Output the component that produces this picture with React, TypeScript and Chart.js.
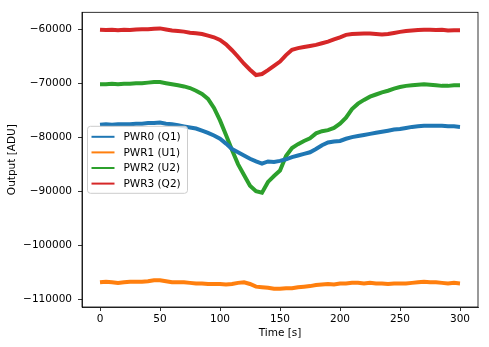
import React, { useEffect, useRef } from "react";
import { Chart, registerables } from "chart.js";

Chart.register(...registerables);

const times = [
  0, 5, 10, 15, 20, 25, 30, 35, 40, 45, 50, 55, 60, 65, 70, 75, 80, 85, 90, 95,
  100, 105, 110, 115, 120, 125, 130, 135, 140, 145, 150, 155, 160, 165, 170, 175,
  180, 185, 190, 195, 200, 205, 210, 215, 220, 225, 230, 235, 240, 245, 250, 255,
  260, 265, 270, 275, 280, 285, 290, 295, 300,
];

const pwr0 = [
  -77700, -77600, -77700, -77600, -77600, -77600, -77500, -77500, -77400, -77400,
  -77300, -77500, -77600, -77800, -78000, -78200, -78400, -78800, -79200, -79700,
  -80300, -81200, -82200, -82800, -83400, -84000, -84500, -84900, -84500, -84600,
  -84400, -84100, -83700, -83400, -83100, -82800, -82200, -81500, -81000, -80800,
  -80700, -80300, -80000, -79800, -79600, -79400, -79200, -79000, -78800, -78600,
  -78500, -78300, -78100, -78000, -77900, -77900, -77900, -77900, -78000, -78000,
  -78100,
];

const pwr1 = [
  -106900, -106800, -106900, -107000, -106900, -106800, -106800, -106800, -106700, -106500,
  -106500, -106700, -106900, -106900, -106900, -107000, -107100, -107100, -107200, -107200,
  -107200, -107300, -107200, -107000, -106900, -107200, -107700, -107800, -107900, -108100,
  -108100, -108000, -108000, -107800, -107700, -107600, -107400, -107300, -107200, -107300,
  -107100, -107100, -107000, -107000, -107100, -107000, -107100, -107100, -107200, -107100,
  -107100, -107100, -107000, -106900, -106800, -106900, -106900, -107000, -107100, -107000,
  -107100,
];

const pwr2 = [
  -70200, -70200, -70100, -70200, -70100, -70100, -70000, -70000, -69900, -69800,
  -69800, -70000, -70200, -70400, -70600, -70900, -71400, -72000, -72900, -74600,
  -76900, -79600, -82400, -85000, -87000, -89000, -90000, -90300, -88300, -87200,
  -86200, -83500, -82000, -81300, -80700, -80200, -79300, -78900, -78700, -78300,
  -77500, -76400, -74800, -73800, -73100, -72500, -72100, -71700, -71400, -71000,
  -70700, -70500, -70400, -70300, -70200, -70300, -70400, -70500, -70500, -70400,
  -70400,
];

const pwr3 = [
  -60100, -60150, -60100, -60200, -60100, -60150, -60050, -60000, -60000, -59900,
  -59850, -60050, -60250, -60350, -60450, -60650, -60750, -60900, -61200, -61500,
  -62000, -62800, -63900, -65100, -66400, -67500, -68500, -68300, -67600, -66800,
  -66000, -64800, -63800, -63500, -63300, -63100, -62900, -62600, -62300, -61900,
  -61500, -61050, -60900, -60850, -60800, -60800, -60900, -61000, -60900, -60700,
  -60500, -60350, -60250, -60150, -60100, -60100, -60150, -60100, -60250, -60200,
  -60200,
];

const seriesNames = ["PWR0 (Q1)", "PWR1 (U1)", "PWR2 (U2)", "PWR3 (Q2)"];
const seriesColors = ["#1f77b4", "#ff7f0e", "#2ca02c", "#d62728"];
const seriesValues = [pwr0, pwr1, pwr2, pwr3];

const xTicks = [0, 50, 100, 150, 200, 250, 300];
const yTicks = [-110000, -100000, -90000, -80000, -70000, -60000];

const FONT = "'DejaVu Sans', sans-serif";

const fmt = (v: number) => (v < 0 ? "\u2212" + Math.abs(v) : String(v));

const framePlugin = {
  id: "frame",
  afterDraw(chart: any) {
    const { ctx, chartArea } = chart;
    ctx.save();
    ctx.strokeStyle = "#000";
    ctx.lineWidth = 0.8;
    ctx.strokeRect(
      chartArea.left,
      chartArea.top,
      chartArea.right - chartArea.left,
      chartArea.bottom - chartArea.top
    );
    ctx.restore();
  },
};

const legendPlugin = {
  id: "mplLegend",
  afterDraw(chart: any) {
    const { ctx, chartArea } = chart;
    const x = chartArea.left + 5.5;
    const y = chartArea.top + 114;
    const w = 100;
    const h = 67;
    const r = 3;
    ctx.save();
    ctx.beginPath();
    ctx.moveTo(x + r, y);
    ctx.lineTo(x + w - r, y);
    ctx.arcTo(x + w, y, x + w, y + r, r);
    ctx.lineTo(x + w, y + h - r);
    ctx.arcTo(x + w, y + h, x + w - r, y + h, r);
    ctx.lineTo(x + r, y + h);
    ctx.arcTo(x, y + h, x, y + h - r, r);
    ctx.lineTo(x, y + r);
    ctx.arcTo(x, y, x + r, y, r);
    ctx.closePath();
    ctx.fillStyle = "rgba(255,255,255,0.8)";
    ctx.fill();
    ctx.strokeStyle = "#cccccc";
    ctx.lineWidth = 1;
    ctx.stroke();
    ctx.font = `10.5px ${FONT}`;
    ctx.textBaseline = "middle";
    ctx.textAlign = "left";
    chart.data.datasets.forEach((ds: any, i: number) => {
      const ry = y + 10.5 + i * 15.6;
      ctx.strokeStyle = ds.borderColor;
      ctx.lineWidth = 2;
      ctx.beginPath();
      ctx.moveTo(x + 4, ry);
      ctx.lineTo(x + 27, ry);
      ctx.stroke();
      ctx.fillStyle = "#000";
      ctx.fillText(ds.label, x + 36, ry + 0.5);
    });
    ctx.restore();
  },
};

export default function App() {
  const ref = useRef<HTMLCanvasElement>(null);

  useEffect(() => {
    document.body.style.margin = "0";
    const canvas = ref.current;
    if (!canvas) return;
    const datasets = seriesNames.map((name, i) => ({
      label: name,
      data: times.map((t, j) => ({ x: t, y: seriesValues[i][j] })),
      borderColor: seriesColors[i],
      backgroundColor: seriesColors[i],
      borderWidth: 4,
      pointRadius: 0,
      tension: 0,
    }));

    const chart = new Chart(canvas, {
      type: "line",
      data: { datasets },
      plugins: [framePlugin, legendPlugin],
      options: {
        responsive: false,
        animation: false,
        layout: { padding: { left: 0, right: 11, top: 11, bottom: 0 } },
        plugins: {
          legend: { display: false },
          tooltip: { enabled: false },
        },
        scales: {
          x: {
            type: "linear",
            min: -15,
            max: 315,
            afterBuildTicks: (scale: any) => {
              scale.ticks = xTicks.map((v) => ({ value: v }));
            },
            afterFit: (scale: any) => {
              scale.height = 40;
            },
            grid: {
              drawOnChartArea: false,
              drawTicks: true,
              tickLength: 4,
              color: "#000",
              lineWidth: 0.8,
            },
            border: { display: true, color: "#000", width: 0.8 },
            ticks: {
              color: "#000",
              padding: 2,
              maxRotation: 0,
              font: { family: FONT, size: 10.5 },
              callback: (v: any) => fmt(Number(v)),
            },
            title: {
              display: true,
              text: "Time [s]",
              color: "#000",
              font: { family: FONT, size: 10.5 },
              padding: { top: 0, bottom: 7 },
            },
          },
          y: {
            type: "linear",
            min: -111470,
            max: -56870,
            afterBuildTicks: (scale: any) => {
              scale.ticks = yTicks.map((v) => ({ value: v }));
            },
            afterFit: (scale: any) => {
              scale.width = 82;
            },
            grid: {
              drawOnChartArea: false,
              drawTicks: true,
              tickLength: 4,
              color: "#000",
              lineWidth: 0.8,
            },
            border: { display: true, color: "#000", width: 0.8 },
            ticks: {
              color: "#000",
              padding: 6,
              font: { family: FONT, size: 10.5 },
              callback: (v: any) => fmt(Number(v)),
            },
            title: {
              display: true,
              text: "Output [ADU]",
              color: "#000",
              font: { family: FONT, size: 10.5 },
              padding: { top: 6, bottom: 0 },
            },
          },
        },
      },
    });
    return () => chart.destroy();
  }, []);

  return (
    <div style={{ position: "absolute", left: 0, top: 0, width: 489, height: 347, background: "#fff" }}>
      <canvas ref={ref} width={489} height={347} style={{ width: 489, height: 347 }} />
    </div>
  );
}
